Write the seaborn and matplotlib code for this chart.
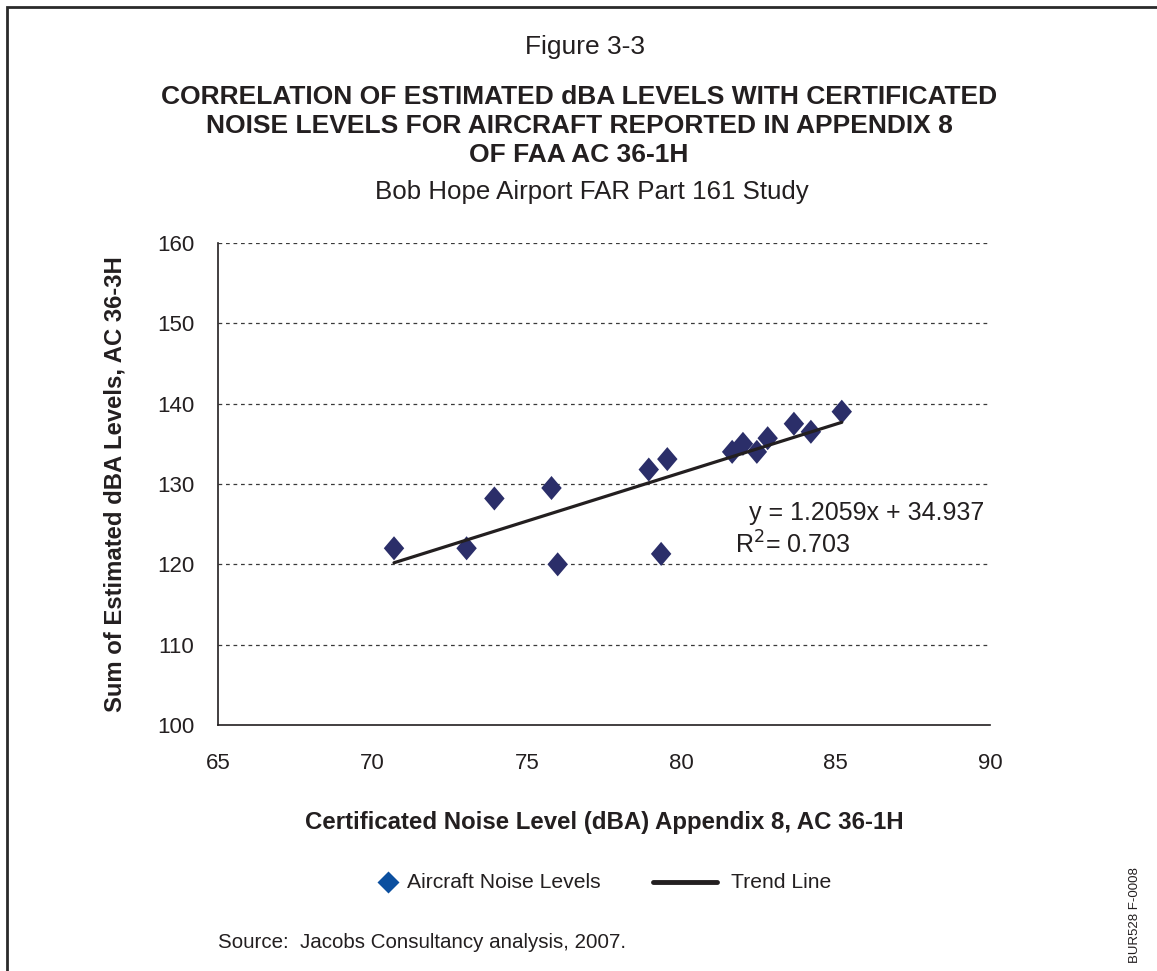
import numpy as np
import pandas as pd
import matplotlib
matplotlib.use("Agg")
import matplotlib.pyplot as plt
from matplotlib.lines import Line2D
from matplotlib.patches import Rectangle
import seaborn as sns

# Certificated noise level (dBA) vs. sum of estimated dBA levels per aircraft
cert_noise = [70.7, 73.05, 73.95, 75.8, 76.0, 78.95, 79.55, 79.35,
              81.65, 82.0, 82.45, 82.8, 83.65, 84.2, 85.2]
est_sum = [122.0, 122.0, 128.2, 129.5, 120.0, 131.8, 133.1, 121.3,
           134.0, 135.0, 134.0, 135.7, 137.5, 136.5, 139.0]

# Linear trend reported on the chart
slope = 1.2059
intercept = 34.937
r_squared = 0.703

x_ticks = [65, 70, 75, 80, 85, 90]
y_ticks = [100, 110, 120, 130, 140, 150, 160]

sns.set_theme(style="white")
plt.rcParams["font.family"] = ["Liberation Sans", "DejaVu Sans"]

W, H, DPI = 1157, 971, 100
fig = plt.figure(figsize=(W / DPI, H / DPI), dpi=DPI)
ax = fig.add_axes([218 / W, 1 - 725 / H, (990 - 218) / W, (725 - 243) / H])


def fx(px):
    return px / W


def fy(py):
    return 1 - py / H


point_color = "#2b2e69"
legend_blue = "#0b4f9f"
text_color = "#231f20"
diamond = [(0, 1), (0.85, 0), (0, -1), (-0.85, 0), (0, 1)]

df = pd.DataFrame({"cert": cert_noise, "est": est_sum})
sns.scatterplot(data=df, x="cert", y="est", marker=diamond, s=300,
                color=point_color, edgecolor="none", ax=ax, zorder=3,
                legend=False)

trend_x = np.array([min(cert_noise), max(cert_noise)])
trend = pd.DataFrame({"x": trend_x, "y": slope * trend_x + intercept})
sns.lineplot(data=trend, x="x", y="y", color=text_color, linewidth=2.3,
             ax=ax, zorder=4, legend=False)

ax.set_xlim(65, 90)
ax.set_ylim(100, 160)
ax.set_xticks(x_ticks)
ax.set_yticks(y_ticks)
ax.set_xticklabels([str(t) for t in x_ticks])
ax.set_yticklabels([str(t) for t in y_ticks])

for yv in y_ticks[1:]:
    ax.axhline(yv, color="#3a3a3a", linewidth=0.9, linestyle=(0, (3, 3)),
               zorder=1)

for side in ("top", "right"):
    ax.spines[side].set_visible(False)
for side in ("left", "bottom"):
    ax.spines[side].set_color(text_color)
    ax.spines[side].set_linewidth(1.2)

ax.tick_params(axis="both", which="major", direction="out", length=10,
               width=1.2, color=text_color, labelsize=16,
               labelcolor=text_color, pad=7)
ax.tick_params(axis="x", pad=10)

ax.set_xlabel("Certificated Noise Level (dBA) Appendix 8, AC 36-1H",
              fontsize=17.3, fontweight="bold", color=text_color)
ax.set_ylabel("Sum of Estimated dBA Levels, AC 36-3H",
              fontsize=17.2, fontweight="bold", color=text_color)
ax.xaxis.set_label_coords(0.5, (725 - 823) / (725 - 243))
ax.xaxis.label.set_va("center")
ax.yaxis.set_label_coords((115 - 218) / (990 - 218), 0.5)
ax.yaxis.label.set_va("center")

fig.text(fx(749), fy(520), "y = 1.2059x + 34.937", fontsize=18,
         color=text_color, ha="left", va="baseline")
fig.text(fx(735), fy(554), "R$^{2}$= " + f"{r_squared:.3f}", fontsize=18,
         color=text_color, ha="left", va="baseline")

# Headings
fig.text(fx(585), fy(47), "Figure 3-3", ha="center", va="center",
         fontsize=19, color=text_color)
for i, line in enumerate(["CORRELATION OF ESTIMATED dBA LEVELS WITH CERTIFICATED",
                          "NOISE LEVELS FOR AIRCRAFT REPORTED IN APPENDIX 8",
                          "OF FAA AC 36-1H"]):
    fig.text(fx(579), fy(97 + 29 * i), line, ha="center", va="center",
             fontsize=19, fontweight="bold", color=text_color)
fig.text(fx(592), fy(192), "Bob Hope Airport FAR Part 161 Study",
         ha="center", va="center", fontsize=18.6, color=text_color)

# Legend row
ly = fy(882)
fig.add_artist(Line2D([fx(388)], [ly], linestyle="none", marker="D",
                      markersize=11.5, markerfacecolor=legend_blue,
                      markeredgecolor="none", transform=fig.transFigure))
fig.text(fx(407), ly, "Aircraft Noise Levels", ha="left", va="center",
         fontsize=15.2, color=text_color)
fig.add_artist(Line2D([fx(653), fx(717)], [ly, ly], color=text_color,
                      linewidth=3.5, transform=fig.transFigure))
fig.text(fx(731), ly, "Trend Line", ha="left", va="center",
         fontsize=15.2, color=text_color)

fig.text(fx(218), fy(942), "Source:  Jacobs Consultancy analysis, 2007.",
         ha="left", va="center", fontsize=14.8, color=text_color)
fig.text(fx(1135), fy(915), "BUR528 F-0008", rotation=90,
         ha="center", va="center", fontsize=9.5, color=text_color)

# Page frame
fig.add_artist(Rectangle((fx(7), -0.05), 1.2, 1 - 7 / H + 0.05,
                         transform=fig.transFigure, fill=False,
                         edgecolor="#2a2a2a", linewidth=2))

fig.savefig("out.png", dpi=DPI, facecolor="white")
